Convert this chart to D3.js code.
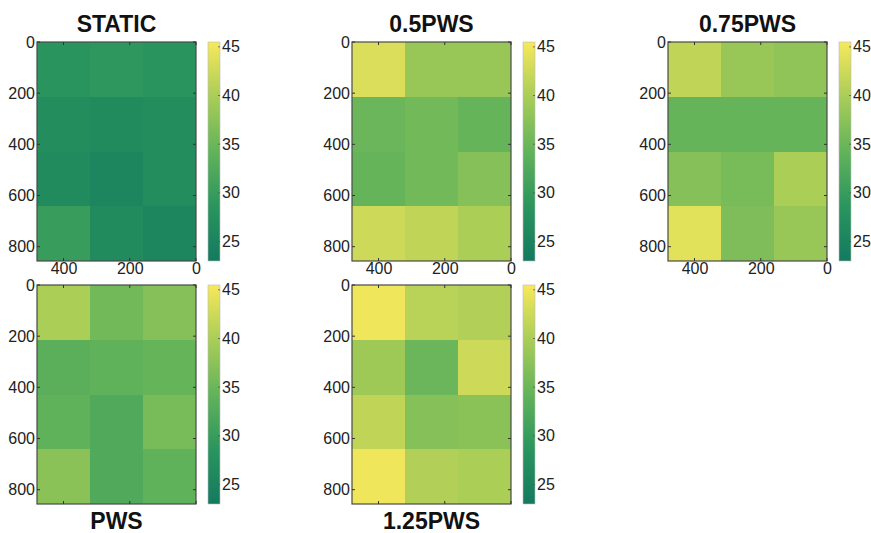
<!DOCTYPE html>
<html>
<head>
<meta charset="utf-8">
<script src="https://cdn.jsdelivr.net/npm/d3@7/dist/d3.min.js"></script>
<style>
  html, body { margin: 0; padding: 0; background: #ffffff; }
  svg { display: block; }
  text { font-family: "Liberation Sans", Arial, sans-serif; }
</style>
</head>
<body>
<svg id="chart" width="871" height="533"></svg>
<script>
// Grid cell edges (distance units) and axis ticks
const xEdges = [480, 320, 160, 0];
const yEdges = [0, 214, 428, 642, 856];
const xTicks = [400, 200, 0];
const yTicks = [0, 200, 400, 600, 800];
const cbTicks = [25, 30, 35, 40, 45];
const cbDomain = [23, 45.5];

// Panel titles
const titles = ["STATIC", "0.5PWS", "0.75PWS", "PWS", "1.25PWS"];

// Cell values, rows top-to-bottom (depth), columns left-to-right
const staticVals = [
  [28.5, 29.0, 28.5],
  [27.0, 26.5, 27.0],
  [26.5, 25.5, 27.0],
  [30.0, 26.5, 25.5]
];
const pws05Vals = [
  [43.5, 38.5, 38.5],
  [35.0, 35.5, 34.5],
  [34.5, 35.5, 37.0],
  [42.5, 41.5, 40.0]
];
const pws075Vals = [
  [41.5, 38.5, 38.0],
  [34.5, 34.5, 34.5],
  [37.0, 36.0, 40.0],
  [44.0, 36.5, 38.5]
];
const pwsVals = [
  [40.0, 35.5, 37.0],
  [33.5, 34.0, 34.5],
  [34.0, 32.5, 36.0],
  [37.5, 32.5, 34.0]
];
const pws125Vals = [
  [45.0, 41.0, 40.5],
  [39.0, 35.0, 42.5],
  [41.5, 37.0, 37.5],
  [45.0, 40.5, 40.0]
];
const panelVals = [staticVals, pws05Vals, pws075Vals, pwsVals, pws125Vals];

// Panel layout: plot origin, title placement, whether x tick labels show
const layout = [
  { x: 37,  y: 42,  titleTop: true,  xLabels: true },
  { x: 352, y: 42,  titleTop: true,  xLabels: true },
  { x: 668, y: 42,  titleTop: true,  xLabels: true },
  { x: 37,  y: 285, titleTop: false, xLabels: false },
  { x: 352, y: 285, titleTop: false, xLabels: false }
];
const plotW = 159, plotH = 219;
const cbOffset = 171, cbW = 12;

// Green-to-yellow colormap
const cmapColors = ["#137a5f", "#2a955e", "#62b35a", "#a9cd57", "#f7e85b"];
const color = d3.scaleLinear()
  .domain(d3.range(cmapColors.length).map(i => cbDomain[0] + i * (cbDomain[1] - cbDomain[0]) / (cmapColors.length - 1)))
  .range(cmapColors)
  .interpolate(d3.interpolateRgb)
  .clamp(true);

const svg = d3.select("#chart");
const defs = svg.append("defs");
const grad = defs.append("linearGradient")
  .attr("id", "cbgrad").attr("x1", 0).attr("y1", 1).attr("x2", 0).attr("y2", 0);
d3.range(0, 1.0001, 0.05).forEach(t => {
  grad.append("stop").attr("offset", t)
    .attr("stop-color", color(cbDomain[0] + t * (cbDomain[1] - cbDomain[0])));
});

const tickColor = "#333";
const labelSize = 16;
const labelFont = "'Liberation Sans', Arial, sans-serif";

layout.forEach((L, i) => {
  const g = svg.append("g").attr("transform", `translate(${L.x},${L.y})`);
  const x = d3.scaleLinear().domain([480, 0]).range([0, plotW]);
  const y = d3.scaleLinear().domain([0, 856]).range([0, plotH]);
  const vals = panelVals[i];

  // heatmap cells
  const cells = [];
  vals.forEach((row, r) => row.forEach((v, c) => cells.push({ r, c, v })));
  g.selectAll("rect.cell").data(cells).join("rect")
    .attr("class", "cell")
    .attr("x", d => x(xEdges[d.c]))
    .attr("y", d => y(yEdges[d.r]))
    .attr("width", d => x(xEdges[d.c + 1]) - x(xEdges[d.c]))
    .attr("height", d => y(yEdges[d.r + 1]) - y(yEdges[d.r]))
    .attr("fill", d => color(d.v))
    .attr("shape-rendering", "crispEdges");

  // frame
  g.append("rect").attr("x", 0).attr("y", 0).attr("width", plotW).attr("height", plotH)
    .attr("fill", "none").attr("stroke", "#4a4a4a").attr("stroke-width", 1.2);

  // inward ticks on all sides
  const tk = 3;
  xTicks.forEach(t => {
    g.append("line").attr("x1", x(t)).attr("x2", x(t)).attr("y1", 0).attr("y2", tk).attr("stroke", tickColor);
    g.append("line").attr("x1", x(t)).attr("x2", x(t)).attr("y1", plotH).attr("y2", plotH - tk).attr("stroke", tickColor);
  });
  yTicks.forEach(t => {
    g.append("line").attr("x1", 0).attr("x2", tk).attr("y1", y(t)).attr("y2", y(t)).attr("stroke", tickColor);
    g.append("line").attr("x1", plotW).attr("x2", plotW - tk).attr("y1", y(t)).attr("y2", y(t)).attr("stroke", tickColor);
  });

  // y tick labels
  const yAxis = d3.axisLeft(y).tickValues(yTicks).tickSize(0).tickPadding(2);
  const ya = g.append("g").call(yAxis);
  ya.select(".domain").remove();
  ya.selectAll("text").attr("font-size", labelSize).attr("fill", "#222").attr("font-family", labelFont);

  // x tick labels
  if (L.xLabels) {
    const xAxis = d3.axisBottom(x).tickValues(xTicks).tickSize(0).tickPadding(2);
    const xa = g.append("g").attr("transform", `translate(0,${plotH})`).call(xAxis);
    xa.select(".domain").remove();
    xa.selectAll("text").attr("font-size", labelSize).attr("fill", "#222").attr("font-family", labelFont);
  }

  // colorbar
  const cb = g.append("g").attr("transform", `translate(${cbOffset},0)`);
  const cy = d3.scaleLinear().domain(cbDomain).range([plotH, 0]);
  cb.append("rect").attr("x", 0).attr("y", 0).attr("width", cbW).attr("height", plotH)
    .attr("fill", "url(#cbgrad)").attr("stroke", "#bbb").attr("stroke-width", 0.6);
  cbTicks.forEach(t => {
    cb.append("line").attr("x1", cbW).attr("x2", cbW - 2).attr("y1", cy(t)).attr("y2", cy(t))
      .attr("stroke", "#555").attr("stroke-width", 0.8);
  });
  const cAxis = d3.axisRight(cy).tickValues(cbTicks).tickSize(0).tickPadding(2);
  const ca = cb.append("g").attr("transform", `translate(${cbW},0)`).call(cAxis);
  ca.select(".domain").remove();
  ca.selectAll("text").attr("font-size", labelSize).attr("fill", "#222").attr("font-family", labelFont);

  // title
  g.append("text")
    .attr("x", plotW / 2)
    .attr("y", L.titleTop ? -10 : plotH + 25)
    .attr("text-anchor", "middle")
    .attr("font-size", 23).attr("font-weight", "bold").attr("fill", "#111")
    .text(titles[i]);
});
</script>
</body>
</html>
